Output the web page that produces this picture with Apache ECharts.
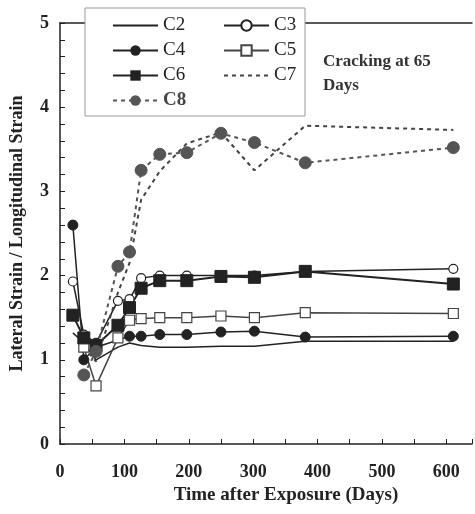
<!DOCTYPE html>
<html>
<head>
<meta charset="utf-8">
<script src="https://cdn.jsdelivr.net/npm/echarts@6/dist/echarts.min.js"></script>
<style>
  html, body { margin: 0; padding: 0; background: #fff; }
  #chart { width: 475px; height: 514px; }
</style>
</head>
<body>
<div id="chart"></div>
<script>
// days after exposure
const days = [20, 37, 56, 90, 108, 126, 155, 197, 250, 302, 381, 611];

// lateral / longitudinal strain ratio
const c2 = [1.32, 1.2, 1.0, 1.15, 1.2, 1.17, 1.15, 1.15, 1.16, 1.16, 1.22, 1.22];
const c3 = [1.93, 1.3, 1.2, 1.7, 1.72, 1.97, 2.0, 2.0, 2.0, 2.0, 2.05, 2.08];
const c4 = [2.6, 1.0, 1.15, null, 1.28, 1.28, 1.3, 1.3, 1.33, 1.34, 1.27, 1.28];
const c5 = [null, 1.15, 0.69, 1.26, 1.47, 1.49, 1.5, 1.5, 1.52, 1.5, 1.56, 1.55];
const c6 = [1.53, 1.26, 1.17, 1.41, 1.62, 1.85, 1.94, 1.94, 1.99, 1.98, 2.05, 1.9];
const c7 = [null, 1.15, 0.98, 1.8, 2.15, 2.9, 3.24, 3.57, 3.7, 3.25, 3.78, 3.73];
const c8 = [null, 0.82, 1.1, 2.11, 2.28, 3.25, 3.44, 3.46, 3.69, 3.58, 3.34, 3.52];

const serif = 'Liberation Serif';
const ink = '#222';

function pairs(vals) {
  return days.map((d, i) => [d, vals[i]]);
}

function line(name, vals, extra) {
  return Object.assign({
    name: name,
    type: 'line',
    data: pairs(vals),
    connectNulls: true,
    symbol: 'circle',
    showSymbol: false,
    color: ink,
    lineStyle: { color: ink, width: 1.5 },
    itemStyle: { color: ink, borderColor: ink },
    animation: false
  }, extra || {});
}

// no marker in the legend for the plain lines
const noMark = { color: 'transparent', borderColor: 'transparent', borderWidth: 0 };

const legendBase = {
  orient: 'vertical',
  top: 11,
  itemWidth: 45,
  itemHeight: 13,
  itemGap: 6,
  z: 20,
  textStyle: { fontFamily: serif, fontSize: 19, color: ink }
};

const chart = echarts.init(document.getElementById('chart'));

chart.setOption({
  backgroundColor: '#fff',
  grid: { left: 58, right: 0, top: 23, bottom: 70 },
  xAxis: [{
    type: 'value',
    min: 0,
    max: 640,
    interval: 100,
    name: 'Time after Exposure (Days)',
    nameLocation: 'middle',
    nameGap: 38,
    nameTextStyle: {
      fontFamily: serif, fontSize: 19, fontWeight: 'bold', color: ink,
      padding: [0, 0, 0, 40]
    },
    axisLine: { lineStyle: { color: ink, width: 1.5 } },
    axisTick: { inside: true, length: 5, lineStyle: { color: ink } },
    minorTick: { show: true, splitNumber: 2, length: 5, lineStyle: { color: ink } },
    splitLine: { show: false },
    axisLabel: {
      margin: 19,
      fontFamily: serif, fontSize: 18, fontWeight: 'bold', color: ink,
      formatter: v => (v % 100 === 0 ? v : '')
    }
  }, {
    type: 'value',
    position: 'top',
    min: 0,
    max: 640,
    axisLine: { show: true, lineStyle: { color: ink, width: 1.5 } },
    axisTick: { show: false },
    axisLabel: { show: false },
    splitLine: { show: false }
  }],
  yAxis: {
    type: 'value',
    min: 0,
    max: 5,
    interval: 1,
    name: 'Lateral Strain / Longitudinal Strain',
    nameLocation: 'middle',
    nameGap: 34,
    nameTextStyle: { fontFamily: serif, fontSize: 18, fontWeight: 'bold', color: ink },
    axisLine: { show: true, lineStyle: { color: ink, width: 1.5 } },
    axisTick: { inside: true, length: 5, lineStyle: { color: ink } },
    minorTick: { show: true, splitNumber: 5, length: 5, lineStyle: { color: ink } },
    splitLine: { show: false },
    axisLabel: { margin: 11, fontFamily: serif, fontSize: 18, fontWeight: 'bold', color: ink }
  },
  legend: [
    Object.assign({}, legendBase, {
      left: 107,
      data: [
        { name: 'C2', itemStyle: noMark },
        'C4',
        'C6',
        { name: 'C8', textStyle: { fontWeight: 'bold', color: '#444' } }
      ]
    }),
    Object.assign({}, legendBase, {
      left: 218,
      data: ['C3', 'C5', { name: 'C7', itemStyle: noMark }]
    })
  ],
  graphic: [{
    type: 'rect',
    z: 10,
    shape: { x: 85, y: 8, width: 220, height: 108 },
    style: { fill: '#fff', stroke: '#999', lineWidth: 1 }
  }, {
    type: 'text',
    z: 10,
    left: 323,
    top: 50,
    style: {
      text: 'Cracking at 65\nDays',
      font: 'bold 17px "Liberation Serif"',
      lineHeight: 24,
      fill: '#333'
    }
  }],
  series: [
    line('C2', c2),
    line('C3', c3, { showSymbol: true, symbolSize: 9,
      itemStyle: { color: '#fff', borderColor: ink, borderWidth: 1.2 } }),
    line('C4', c4, { showSymbol: true, symbolSize: 10 }),
    line('C5', c5, { showSymbol: true, symbol: 'rect', symbolSize: 10,
      lineStyle: { color: '#444', width: 1.5 },
      itemStyle: { color: '#fff', borderColor: '#444', borderWidth: 1.2 } }),
    line('C6', c6, { showSymbol: true, symbol: 'rect', symbolSize: 12,
      lineStyle: { color: ink, width: 2 } }),
    line('C7', c7, { color: '#444', lineStyle: { color: '#444', width: 2, type: [4, 4] } }),
    line('C8', c8, { showSymbol: true, symbolSize: 12, color: '#555',
      lineStyle: { color: '#555', width: 2, type: [4, 4] },
      itemStyle: { color: '#555', borderColor: '#555' } })
  ]
});
</script>
</body>
</html>
